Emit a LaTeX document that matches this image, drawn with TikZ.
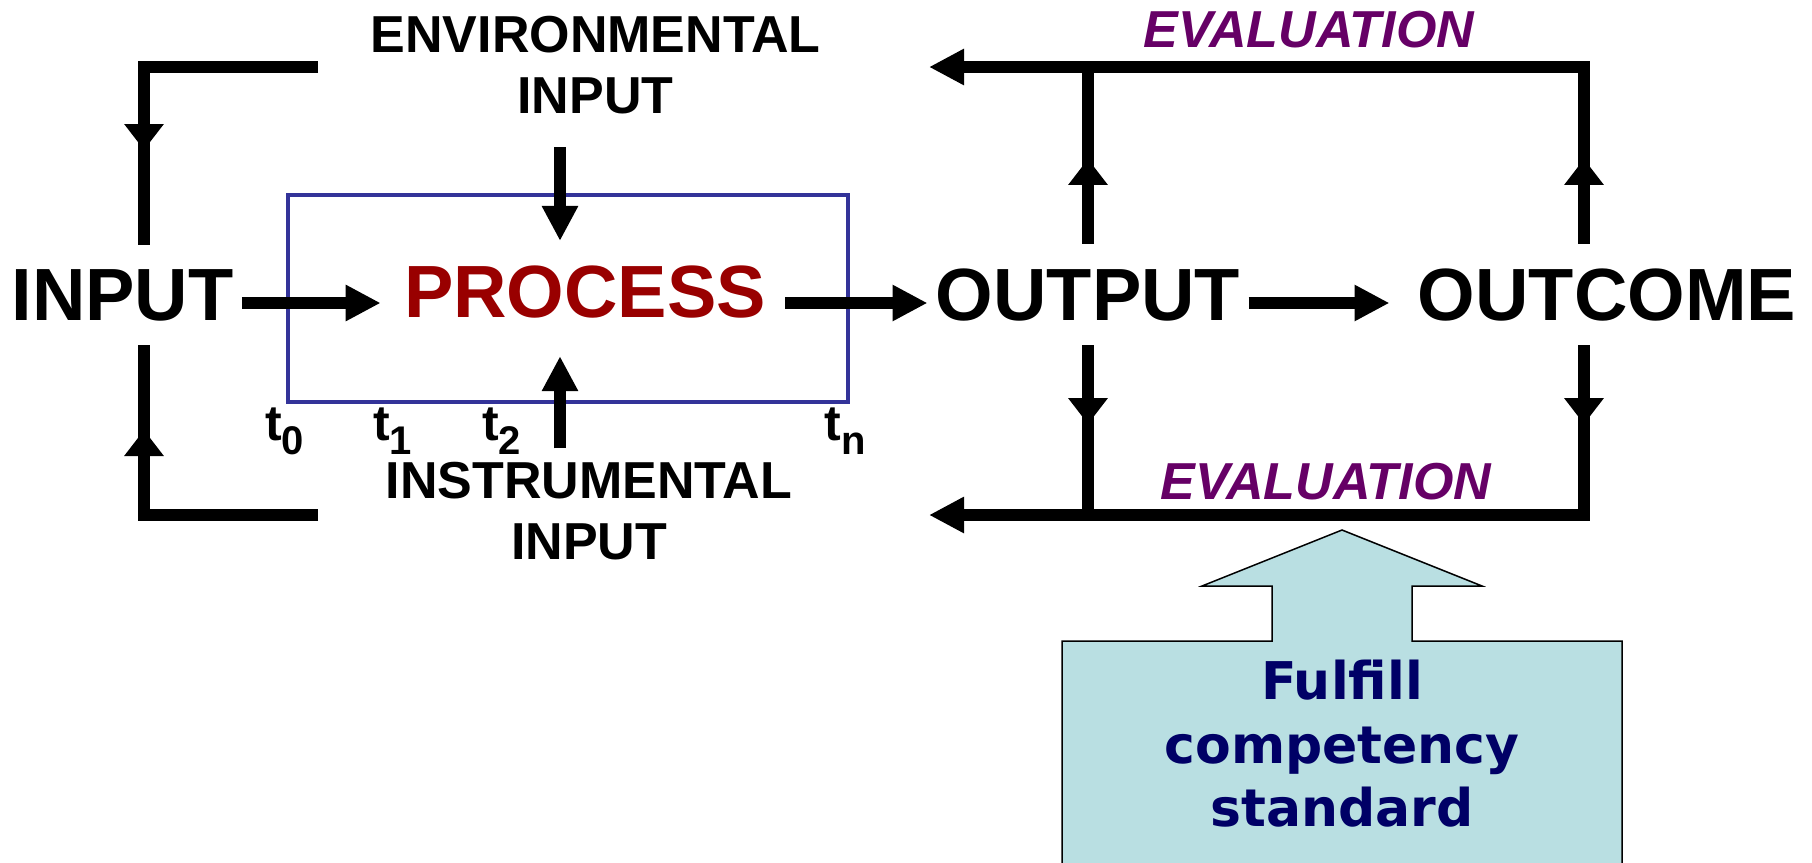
\documentclass[tikz,border=0pt]{standalone}
\usepackage{fontspec}
\setmainfont{Liberation Sans}
\newfontfamily\verdanafont{DejaVu Sans}
\usetikzlibrary{calc}
\usetikzlibrary{arrows.meta}
\usetikzlibrary{decorations.markings}
\definecolor{procred}{HTML}{990000}
\definecolor{boxblue}{HTML}{333399}
\definecolor{evalpurple}{HTML}{660066}
\definecolor{callfill}{HTML}{B9DFE2}
\definecolor{callnavy}{HTML}{000066}
\newcommand{\tlab}[1]{t\raisebox{-7pt}{\fontsize{20}{20}\selectfont #1}}

\begin{document}
\begin{tikzpicture}[x=0.5pt,y=-0.5pt,
    htip/.tip={Triangle[length=17.5pt,width=17pt]},
    vtip/.tip={Triangle[length=13pt,width=19pt]},
    flow/.style={line width=6pt},
    midtip/.style={postaction={decorate},decoration={markings,mark=at position #1 with {\arrow{vtip}}}},
    big/.style={font=\fontsize{37}{37}\selectfont\bfseries,inner xsep=4pt,inner ysep=12pt,anchor=base},
    side/.style={font=\fontsize{26}{30.5}\selectfont\bfseries,align=center,inner sep=0pt,anchor=south},
    evaltext/.style={font=\fontsize{26}{26}\selectfont\bfseries\itshape,text=evalpurple,anchor=base},
    tnode/.style={font=\fontsize{25}{25}\selectfont\bfseries,anchor=base,inner sep=0pt}]
        \useasboundingbox (0,0) rectangle (1812,863);

        % Process box
        \draw[boxblue,line width=2.2pt] (288,195) rectangle (848,402);

        % Main chain
        \node[big] (input) at (122.5,320) {INPUT};
        \node[big,text=procred] (process) at (585,317) {PROCESS};
        \node[big] (output) at (1088,320) {OUTPUT};
        \node[big] (outcome) at (1607,320) {OUTCOME};
        \node[side] (env) at (595.5,114) {ENVIRONMENTAL\\INPUT};
        \node[side] (instr) at (589,560) {INSTRUMENTAL\\INPUT};
        \node[evaltext] (evaltop) at (1309,47) {EVALUATION};
        \node[evaltext] (evalbot) at (1326,499) {EVALUATION};

        % Time marks
        \node[tnode] (t0) at (284.5,440) {\tlab{0}};
        \node[tnode] (t1) at (392.5,440) {\tlab{1}};
        \node[tnode] (t2) at (501.5,440) {\tlab{2}};
        \node[tnode] (tn) at (845.5,440) {\tlab{n}};

        \coordinate (mid) at (0,303);
        \coordinate (envx) at (560,0);
        \draw[flow,-htip,shorten >=7.5pt] (input.east |- mid) -- (process.west |- mid);
        \draw[flow,-htip,shorten <=5.5pt] (process.east |- mid) -- (output.west |- mid);
        \draw[flow,-htip,shorten >=10pt] (output.east |- mid) -- (outcome.west |- mid);
        \draw[flow,-htip,shorten <=16.5pt] (env.south -| envx) -- (process.north -| envx);
        \draw[flow,-htip,shorten <=6.5pt,shorten >=7pt] (instr.north -| envx) -- (process.south -| envx);

        % Feedback into input
        \coordinate (lt) at (318,67);
        \coordinate (lb) at (318,515);
        \coordinate (lx) at (144,0);
        \draw[flow,midtip=128.5pt] (lt) -- (lt -| lx) -- (input.north -| lx);
        \draw[flow,midtip=129.5pt] (lb) -- (lb -| lx) -- (input.south -| lx);

        % Evaluation loops
        \coordinate (tr) at (1584,67);
        \coordinate (br) at (1584,515);
        \coordinate (el) at (929,0);
        \draw[flow,-htip,midtip=42.5pt] (outcome.north -| tr) -- (tr) -- (tr -| el);
        \draw[flow,midtip=42.5pt] (output.north) -- (output.north |- tr);
        \draw[flow,-htip,midtip=39.5pt] (outcome.south -| br) -- (br) -- (br -| el);
        \draw[flow,midtip=39.5pt] (output.south) -- (output.south |- br);

        % Competency standard callout
        \draw[fill=callfill,line width=0.75pt] (1062,866) -- (1062,641) -- (1272,641) -- (1272,586) -- (1202,586) -- (1342,530)
            -- (1482,586) -- (1412,586) -- (1412,641) -- (1622,641) -- (1622,866);
        \node[font=\verdanafont\bfseries\fontsize{26}{31.75}\selectfont,text=callnavy,align=center,anchor=south,inner sep=0pt] (std) at (1342,828) {Fulfill\\competency\\standard};
    \end{tikzpicture}
\end{document}
